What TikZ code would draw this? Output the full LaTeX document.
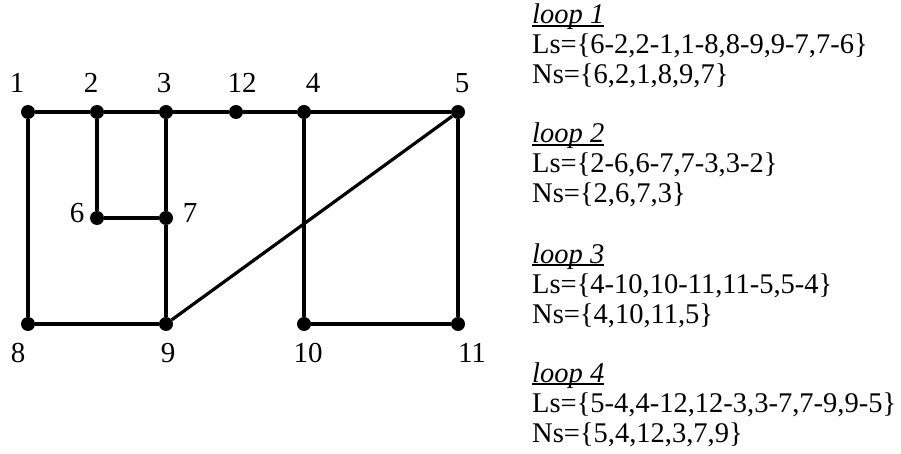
\documentclass[tikz,border=0pt]{standalone}
\usepackage{fontspec}
\setmainfont{Liberation Serif}
\usepackage{tikz}
\usetikzlibrary{positioning}
\newcommand\loopul[1]{\setbox0\hbox{\itshape #1}\rlap{\rule[-2.8pt]{\wd0}{1.4pt}}\box0}

\begin{document}
\begin{tikzpicture}[x=1pt,y=-1pt, every node/.style={font=\fontsize{28.5}{31}\selectfont}]
\tikzstyle{dot}=[circle,fill=black,inner sep=0pt,minimum size=14pt]
\tikzstyle{num}=[inner sep=0pt,font=\fontsize{29}{31}\selectfont]
\tikzstyle{txt}=[anchor=base west,inner sep=0pt]
\tikzstyle{wire}=[line width=3.2pt]
\useasboundingbox (0,0) rectangle (901,454);
% nodes of the network
\node[dot] (n1) at (28,112) {};
\node[dot] (n2) at (97,112) {};
\node[dot] (n3) at (166,112) {};
\node[dot] (n12) at (236,112) {};
\node[dot] (n4) at (304,112) {};
\node[dot] (n5) at (458,112) {};
\node[dot] (n6) at (97,218) {};
\node[dot] (n7) at (166,218) {};
\node[dot] (n8) at (28,324) {};
\node[dot] (n9) at (166,324) {};
\node[dot] (n10) at (304,324) {};
\node[dot] (n11) at (458,324) {};
% node numbers
\node[num] (l1) at (17,83) {1};
\node[num] (l2) at (91,83) {2};
\node[num] (l3) at (164,83) {3};
\node[num] (l12) at (242,83) {12};
\node[num] (l4) at (313,83) {4};
\node[num] (l5) at (462,83) {5};
\node[num] (l6) at (77,213) {6};
\node[num] (l7) at (190,213) {7};
\node[num] (l8) at (18,353) {8};
\node[num] (l9) at (168,353) {9};
\node[num] (l10) at (308,353) {10};
\node[num] (l11) at (472,353) {11};
% branches
\draw[wire] (n1) -- (n2) -- (n3) -- (n12) -- (n4) -- (n5);
\draw[wire] (n1) -- (n8) -- (n9);
\draw[wire] (n2) -- (n6) -- (n7);
\draw[wire] (n3) -- (n7) -- (n9);
\draw[wire] (n9) -- (n5);
\draw[wire] (n4) -- (n10) -- (n11) -- (n5);
% loop lists
\node[txt] (t1) at (532,24) {\loopul{loop 1}};
\node[txt] (ls1) at (532,54) {Ls=\{6-2,2-1,1-8,8-9,9-7,7-6\}};
\node[txt] (ns1) at (532,84) {Ns=\{6,2,1,8,9,7\}};
\node[txt] (t2) at (532,143) {\loopul{loop 2}};
\node[txt] (ls2) at (532,173) {Ls=\{2-6,6-7,7-3,3-2\}};
\node[txt] (ns2) at (532,203) {Ns=\{2,6,7,3\}};
\node[txt] (t3) at (532,263) {\loopul{loop 3}};
\node[txt] (ls3) at (532,293) {Ls=\{4-10,10-11,11-5,5-4\}};
\node[txt] (ns3) at (532,323) {Ns=\{4,10,11,5\}};
\node[txt] (t4) at (532,382) {\loopul{loop 4}};
\node[txt] (ls4) at (532,412) {Ls=\{5-4,4-12,12-3,3-7,7-9,9-5\}};
\node[txt] (ns4) at (532,442) {Ns=\{5,4,12,3,7,9\}};
\end{tikzpicture}
\end{document}
